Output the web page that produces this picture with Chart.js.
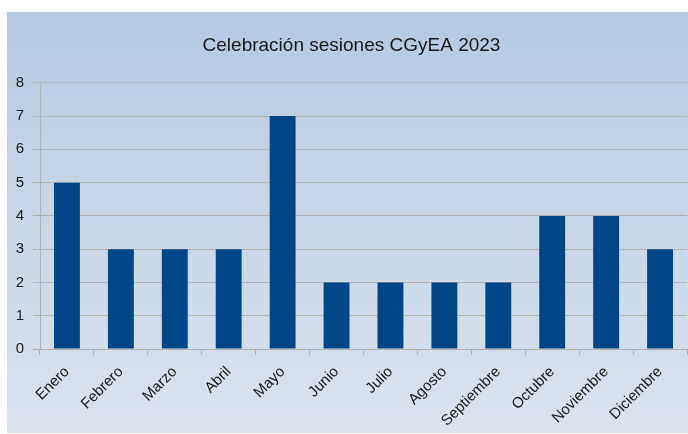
<!DOCTYPE html>
<html>
<head>
<meta charset="utf-8">
<script src="https://cdn.jsdelivr.net/npm/chart.js@4"></script>
<style>
  html, body { margin: 0; padding: 0; background: #ffffff; }
  #wrap { width: 688px; height: 434px; }
</style>
</head>
<body>
<div id="wrap"><canvas id="sesiones-chart" width="688" height="434"></canvas></div>
<script>
// Sesiones celebradas por mes (CGyEA 2023)
const MESES = ["Enero", "Febrero", "Marzo", "Abril", "Mayo", "Junio",
               "Julio", "Agosto", "Septiembre", "Octubre", "Noviembre", "Diciembre"];
const SESIONES = [5, 3, 3, 3, 7, 2, 2, 2, 2, 4, 4, 3];
const Y_MAX = 8;

const FONT = "'Liberation Sans', Arial, sans-serif";

// Gradient panel behind everything (the exported chart sits on a white page
// with a small margin top/left).
const panelBackground = {
    id: "panelBackground",
    beforeDraw(chart) {
        const ctx = chart.ctx;
        ctx.save();
        ctx.fillStyle = "#ffffff";
        ctx.fillRect(0, 0, chart.width, chart.height);
        const g = ctx.createLinearGradient(0, 12, 0, 433);
        g.addColorStop(0, "#b6c9df");
        g.addColorStop(1, "#dce3ed");
        ctx.fillStyle = g;
        ctx.fillRect(7, 12, chart.width - 7, 421);
        ctx.restore();
    },
};

const lastIdx = MESES.length;
// left padding nudges the title centre right; y axis width compensates so
// the plot still starts at x = 40
const PAD_LEFT = 16;

new Chart(document.getElementById("sesiones-chart"), {
    type: "bar",
    data: {
        labels: MESES,
        datasets: [{
            label: "Sesiones",
            data: SESIONES,
            backgroundColor: "#004586",
            borderWidth: 0,
            barPercentage: 0.8,
            categoryPercentage: 0.6,
        }],
    },
    options: {
        responsive: false,
        animation: false,
        layout: { padding: { left: PAD_LEFT, right: 1, top: 0, bottom: 0 } },
        plugins: {
            legend: { display: false },
            tooltip: { enabled: false },
            title: {
                display: true,
                text: "Celebración sesiones CGyEA 2023",
                color: "#1a1a1a",
                font: { family: FONT, size: 19, weight: "normal" },
                padding: { top: 34, bottom: 26 },
            },
        },
        scales: {
            x: {
                offset: true,
                afterFit(scale) { scale.height = 85; },
                grid: {
                    offset: true,
                    drawOnChartArea: true,
                    color: ctx => (ctx.index === lastIdx ? "#b3b3b3" : "rgba(0,0,0,0)"),
                    tickColor: "#b3b3b3",
                    tickLength: 6,
                    lineWidth: 1,
                },
                border: { display: true, color: "#b3b3b3" },
                ticks: {
                    minRotation: 45,
                    maxRotation: 45,
                    autoSkip: false,
                    padding: 8,
                    color: "#1a1a1a",
                    font: { family: FONT, size: 15 },
                },
            },
            y: {
                min: 0,
                max: Y_MAX,
                afterFit(scale) { scale.width = 40 - PAD_LEFT; },
                grid: {
                    color: "#b3b3b3",
                    tickColor: "#b3b3b3",
                    tickLength: 7,
                },
                border: { display: true, color: "#b3b3b3" },
                ticks: {
                    stepSize: 1,
                    padding: 9,
                    color: "#1a1a1a",
                    font: { family: FONT, size: 15 },
                },
            },
        },
    },
    plugins: [panelBackground],
});
</script>
</body>
</html>
